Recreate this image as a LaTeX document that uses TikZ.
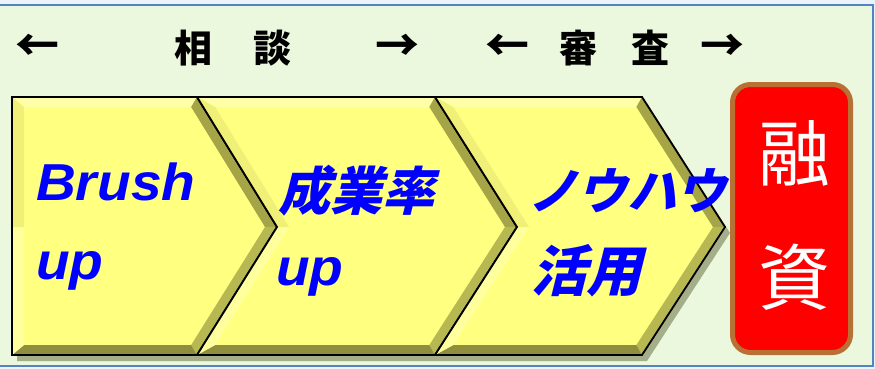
\documentclass[tikz,border=0pt]{standalone}
\usepackage{fontspec}
\newfontfamily\jp{Noto Sans CJK JP}
\newfontfamily\jpsl{Noto Sans CJK JP}[FakeSlant=0.25]
\newfontfamily\lat{Liberation Sans}[FakeStretch=1.06]
\definecolor{pale}{HTML}{EDF3FA}
\definecolor{bgc}{HTML}{EBF8DD}
\definecolor{framec}{HTML}{5383C0}
\definecolor{facecol}{HTML}{FFFF80}
\definecolor{toplight}{HTML}{FFFFA8}
\definecolor{darkA}{HTML}{A5A548}
\definecolor{darkB}{HTML}{B8B852}
\definecolor{darkC}{HTML}{8E8E3E}
\definecolor{lightL}{HTML}{FFFF9E}
\definecolor{midL}{HTML}{F0F078}
\definecolor{shadowc}{HTML}{A4AE88}
\definecolor{txtblue}{HTML}{0000FF}
\definecolor{boxred}{HTML}{FF0000}
\definecolor{boxbrown}{HTML}{B87035}
\tikzset{
  outline/.style={draw=black, line width=1.8pt, line join=miter},
  bluetxt/.style={text=txtblue, inner sep=0pt},
  latintxt/.style={bluetxt, anchor=base west, font=\lat\bfseries\itshape\fontsize{52}{52}\selectfont},
  jptxt/.style={bluetxt, anchor=center, font=\jpsl\bfseries\fontsize{52}{52}\selectfont},
  headtxt/.style={inner sep=0pt, text=black, font=\jp\bfseries\fontsize{38}{38}\selectfont},
  whitetxt/.style={inner sep=0pt, text=white, font=\jp\fontsize{72}{72}\selectfont}
}
\newcommand\chevron[4]{%
  \pgfmathsetmacro\cvA{#1+(#2-#1)*10/130+12}%
  \pgfmathsetmacro\cvB{#3+(#4-#3)*10/130-12}%
  \pgfmathsetmacro\cvC{#4-12}%
  \pgfmathsetmacro\cvF{#2+12}%
  \fill[facecol] (#1,97) -- (#3,97) -- (#4,227) -- (#3,355) -- (#1,355) -- (#2,227) -- cycle;
  \fill[toplight] (#1,97) -- (#3,97) -- (\cvB,107) -- (\cvA,107) -- cycle;
  \fill[darkA] (#3,97) -- (#4,227) -- (\cvC,227) -- (\cvB,107) -- cycle;
  \fill[darkB] (#4,227) -- (#3,355) -- (\cvB,345) -- (\cvC,227) -- cycle;
  \fill[darkC] (#3,355) -- (#1,355) -- (\cvA,345) -- (\cvB,345) -- cycle;
  \fill[lightL] (#1,355) -- (#2,227) -- (\cvF,227) -- (\cvA,345) -- cycle;
  \fill[midL] (#2,227) -- (#1,97) -- (\cvA,107) -- (\cvF,227) -- cycle;
  \draw[outline] (#1,97) -- (#3,97) -- (#4,227) -- (#3,355) -- (#1,355) -- (#2,227) -- cycle;
}
\begin{document}
\begin{tikzpicture}[x=1pt,y=-1pt]
\useasboundingbox (0,0) rectangle (875,369);
\fill[pale] (0,0) rectangle (875,369);
\fill[bgc] (0,6) rectangle (872,365);
\draw[framec, line width=2pt] (0,5) -- (873,5) -- (873,366) -- (0,366);
% shadow
\fill[shadowc, shift={(5,6)}] (12,97) -- (642,97) -- (725,227) -- (642,355) -- (12,355) -- cycle;
% chevrons
\chevron{12}{12}{197}{277}
\chevron{197}{277}{435}{517}
\chevron{435}{517}{642}{725}
% red box
\draw[boxbrown, fill=boxred, line width=5pt, rounded corners=18pt] (732.5,84.5) rectangle (850.5,352.5);
% header
\node[headtxt, font=\jp\bfseries\fontsize{44}{44}\selectfont] (h1) at (38,48) {←};
\node[headtxt] (h2) at (193,48) {相};
\node[headtxt] (h3) at (272,48) {談};
\node[headtxt, font=\jp\bfseries\fontsize{44}{44}\selectfont] (h4) at (397,48) {→};
\node[headtxt, font=\jp\bfseries\fontsize{44}{44}\selectfont] (h5) at (507,48) {←};
\node[headtxt] (h6) at (578,48) {審};
\node[headtxt] (h7) at (650,48) {査};
\node[headtxt, font=\jp\bfseries\fontsize{44}{44}\selectfont] (h8) at (722,48) {→};
% texts
\node[latintxt] (t1a) at (36,200) {Brush};
\node[latintxt] (t1b) at (36,279) {up};
\node[jptxt] (t2a) at (356,191) {成業率};
\node[latintxt] (t2b) at (276,285) {up};
\node[jptxt, font=\jpsl\bfseries\fontsize{49.5}{49.5}\selectfont] (t3a) at (627,191) {ノウハウ};
\node[jptxt, font=\jpsl\bfseries\fontsize{55}{55}\selectfont] (t3b) at (586,271) {活用};
\node[whitetxt] (t4a) at (794,153) {融};
\node[whitetxt] (t4b) at (794,277) {資};
\end{tikzpicture}
\end{document}
